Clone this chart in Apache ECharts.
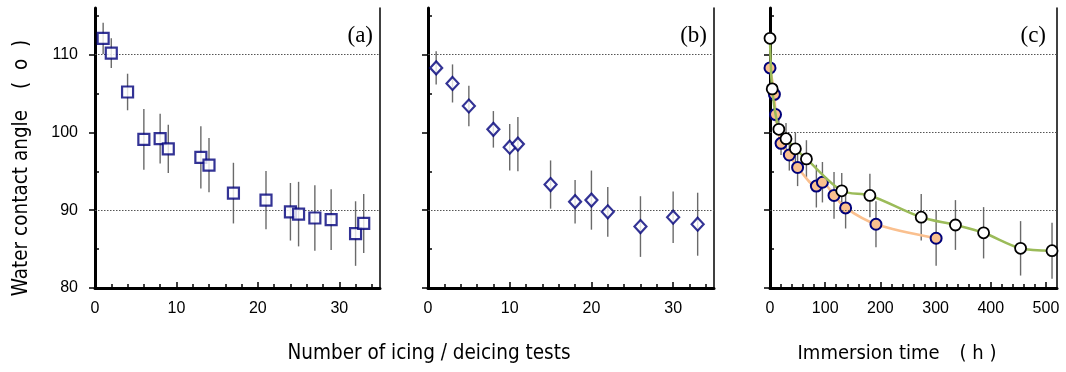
<!DOCTYPE html>
<html>
<head>
<meta charset="utf-8">
<script src="https://cdn.jsdelivr.net/npm/echarts@6/dist/echarts.min.js"></script>
<style>
html,body{margin:0;padding:0;background:#fff;}
#chart{width:1066px;height:372px;}
</style>
</head>
<body>
<div id="chart"></div>
<script>
// ---- Data ----
// (a) squares
const aX   = [1, 2, 4, 6, 8, 9, 13, 14, 17, 21, 24, 25, 27, 29, 32, 33];
const aY   = [112.1, 110.2, 105.2, 99.1, 99.2, 97.9, 96.8, 95.8, 92.2, 91.3, 89.8, 89.5, 89.0, 88.8, 87.0, 88.3];
const aErr = [2.0, 1.9, 2.35, 3.9, 3.2, 3.1, 4.0, 3.5, 3.9, 3.75, 3.7, 4.15, 4.2, 3.9, 4.15, 3.8];
// (b) diamonds
const bX   = [1, 3, 5, 8, 10, 11, 15, 18, 20, 22, 26, 30, 33];
const bY   = [108.3, 106.3, 103.4, 100.4, 98.1, 98.5, 93.3, 91.1, 91.3, 89.8, 87.9, 89.1, 88.2];
const bErr = [2.15, 2.45, 2.6, 2.35, 3.0, 3.5, 3.1, 2.8, 3.8, 3.2, 3.9, 3.3, 4.05];
// (c) open circles (green line)
const cWX   = [0, 4, 16, 29, 46, 66, 130, 181, 274, 336, 387, 454, 511];
const cWY   = [112.1, 105.6, 100.4, 99.2, 97.9, 96.6, 92.5, 91.9, 89.1, 88.1, 87.1, 85.1, 84.8];
const cWErr = [0.8, 1.0, 1.5, 2.0, 2.1, 2.4, 2.3, 2.8, 3.0, 3.2, 3.3, 3.5, 3.6];
// (c) filled circles (orange line)
const cOX   = [0, 8, 10, 20, 35, 50, 84, 95, 116, 137, 192, 301];
const cOY   = [108.3, 104.9, 102.3, 98.6, 97.1, 95.5, 93.1, 93.6, 91.9, 90.3, 88.2, 86.4];
const cOErr = [0.8, 1.0, 1.0, 1.5, 2.0, 2.4, 2.75, 2.6, 3.0, 2.65, 2.95, 3.55];

// ticks
const yMajor  = [80, 90, 100, 110];
const yMinor  = [85, 95, 105, 115];
const abMajor = [0, 10, 20, 30];
const abMinor = [2, 4, 6, 8, 12, 14, 16, 18, 22, 24, 26, 28, 32, 34];
const cMajor  = [0, 100, 200, 300, 400, 500];
const cMinor  = [20, 40, 60, 80, 120, 140, 160, 180, 220, 240, 260, 280, 320, 340, 360, 380, 420, 440, 460, 480];
const gridYAB = [110, 90];
const gridYC  = [110, 100, 90];

const panelLabels = ['(a)', '(b)', '(c)'];
const yTitle = 'Water contact angle\u3000(  o  )';
const xTitleAB = 'Number of icing / deicing tests';
const xTitleC = 'Immersion time\u3000( h )';

const Y_MIN = 80, Y_MAX = 116;
const X_MAX = [35, 35, 520];

// ---- Layout ----
const rects = [
  {left: 95, top: 8, width: 285, height: 280},
  {left: 428, top: 8, width: 286, height: 280},
  {left: 770, top: 8, width: 287, height: 280}
];
const tickFont = '"Liberation Sans", Arial, sans-serif';
const titleFont = '"Liberation Sans Narrow", "DejaVu Sans Condensed", sans-serif';
const black = '#000';

const grid = [];
rects.forEach(r => grid.push(Object.assign({}, r)));
rects.forEach(r => grid.push(Object.assign({}, r)));

const xAxis = [], yAxis = [];
const majorX = [abMajor, abMajor, cMajor];
const minorX = [abMinor, abMinor, cMinor];
for (let i = 0; i < 3; i++) {
  xAxis.push({
    gridIndex: i, type: 'value', min: 0, max: X_MAX[i], position: 'bottom',
    axisLine: {show: true, onZero: false, lineStyle: {color: black, width: 3}},
    axisTick: {show: true, inside: true, length: 6, customValues: majorX[i], lineStyle: {color: black, width: 1.5}},
    axisLabel: {show: true, customValues: majorX[i], margin: 13, color: black, fontSize: 16, fontFamily: tickFont},
    splitLine: {show: false}
  });
}
for (let i = 0; i < 3; i++) {
  xAxis.push({
    gridIndex: 3 + i, type: 'value', min: 0, max: X_MAX[i], position: 'bottom',
    axisLine: {show: false},
    axisTick: {show: true, inside: true, length: 4, customValues: minorX[i], lineStyle: {color: black, width: 1.5}},
    axisLabel: {show: false},
    splitLine: {show: false}
  });
}
for (let i = 0; i < 3; i++) {
  yAxis.push({
    gridIndex: i, type: 'value', min: Y_MIN, max: Y_MAX, position: 'left',
    axisLine: {show: true, onZero: false, lineStyle: {color: black, width: 3}},
    axisTick: {show: true, inside: false, length: 6, customValues: yMajor, lineStyle: {color: black, width: 1.5}},
    axisLabel: {show: i === 0, customValues: yMajor, margin: 17, color: black, fontSize: 16, fontFamily: tickFont},
    splitLine: {show: false}
  });
  yAxis.push({
    gridIndex: i, type: 'value', min: Y_MIN, max: Y_MAX, position: 'right',
    axisLine: {show: true, onZero: false, lineStyle: {color: black, width: 1.5}},
    axisTick: {show: false}, axisLabel: {show: false}, splitLine: {show: false}
  });
}
for (let i = 0; i < 3; i++) {
  yAxis.push({
    gridIndex: 3 + i, type: 'value', min: Y_MIN, max: Y_MAX, position: 'left',
    axisLine: {show: false},
    axisTick: {show: true, inside: true, length: 4, customValues: yMinor, lineStyle: {color: black, width: 1.5}},
    axisLabel: {show: false}, splitLine: {show: false}
  });
}

function errData(xs, ys, es) {
  return xs.map((x, i) => [x, ys[i] - es[i], ys[i] + es[i]]);
}
function pts(xs, ys) { return xs.map((x, i) => [x, ys[i]]); }
function errSeries(gi, data) {
  return {
    type: 'custom', xAxisIndex: gi, yAxisIndex: gi * 2, z: 2, silent: true,
    encode: {x: 0, y: [1, 2]},
    renderItem: function (params, api) {
      const p1 = api.coord([api.value(0), api.value(1)]);
      const p2 = api.coord([api.value(0), api.value(2)]);
      return {type: 'line', shape: {x1: p1[0], y1: p1[1], x2: p2[0], y2: p2[1]},
              style: {stroke: '#6a6a6a', lineWidth: 1.4}};
    },
    data: data
  };
}
function gridLines(gi, vals) {
  return {
    type: 'line', xAxisIndex: gi, yAxisIndex: gi * 2, data: [], z: 1, silent: true,
    markLine: {
      silent: true, symbol: ['none', 'none'], label: {show: false},
      lineStyle: {type: [1.5, 1.5], color: '#555', width: 1},
      data: vals.map(v => ({yAxis: v}))
    }
  };
}

const navy = '#00007a';
const series = [
  gridLines(0, gridYAB), gridLines(1, gridYAB), gridLines(2, gridYC),
  errSeries(0, errData(aX, aY, aErr)),
  errSeries(1, errData(bX, bY, bErr)),
  errSeries(2, errData(cOX, cOY, cOErr)),
  errSeries(2, errData(cWX, cWY, cWErr)),
  {
    type: 'scatter', xAxisIndex: 0, yAxisIndex: 0, z: 5, symbol: 'rect', symbolSize: 11,
    itemStyle: {color: '#fff', borderColor: navy, borderWidth: 2.2}, data: pts(aX, aY)
  },
  {
    type: 'scatter', xAxisIndex: 1, yAxisIndex: 2, z: 5, symbol: 'diamond', symbolSize: [12, 13],
    itemStyle: {color: '#fff', borderColor: navy, borderWidth: 2.2}, data: pts(bX, bY)
  },
  {
    type: 'line', xAxisIndex: 2, yAxisIndex: 4, z: 4, smooth: 0.3, symbol: 'circle', symbolSize: 11,
    lineStyle: {color: '#fac08f', width: 2.5},
    itemStyle: {color: '#fac08f', borderColor: navy, borderWidth: 2}, data: pts(cOX, cOY)
  },
  {
    type: 'line', xAxisIndex: 2, yAxisIndex: 4, z: 6, smooth: 0.3, symbol: 'circle', symbolSize: 11,
    lineStyle: {color: '#9bbb59', width: 2.5},
    itemStyle: {color: '#fff', borderColor: '#000', borderWidth: 1.8}, data: pts(cWX, cWY)
  }
];

const graphic = [
  {type: 'text', right: 1066 - 373, top: 24, style: {text: panelLabels[0], font: '23px "Liberation Serif", "Times New Roman", serif', fill: '#000'}},
  {type: 'text', right: 1066 - 707, top: 24, style: {text: panelLabels[1], font: '23px "Liberation Serif", "Times New Roman", serif', fill: '#000'}},
  {type: 'text', right: 1066 - 1046, top: 24, style: {text: panelLabels[2], font: '23px "Liberation Serif", "Times New Roman", serif', fill: '#000'}},
  {type: 'text', x: 429, y: 354, style: {text: xTitleAB, font: '20.5px ' + titleFont, fill: '#000', align: 'center', verticalAlign: 'middle'}},
  {type: 'text', x: 897, y: 354, style: {text: xTitleC, font: '20px ' + titleFont, fill: '#000', align: 'center', verticalAlign: 'middle'}},
  {type: 'text', x: 22, y: 168, rotation: Math.PI / 2, style: {text: yTitle, font: '20.5px ' + titleFont, fill: '#000', align: 'center', verticalAlign: 'middle'}}
];

const chart = echarts.init(document.getElementById('chart'), null, {renderer: 'canvas'});
chart.setOption({
  animation: false,
  backgroundColor: '#fff',
  grid: grid, xAxis: xAxis, yAxis: yAxis, series: series, graphic: graphic
});
</script>
</body>
</html>
